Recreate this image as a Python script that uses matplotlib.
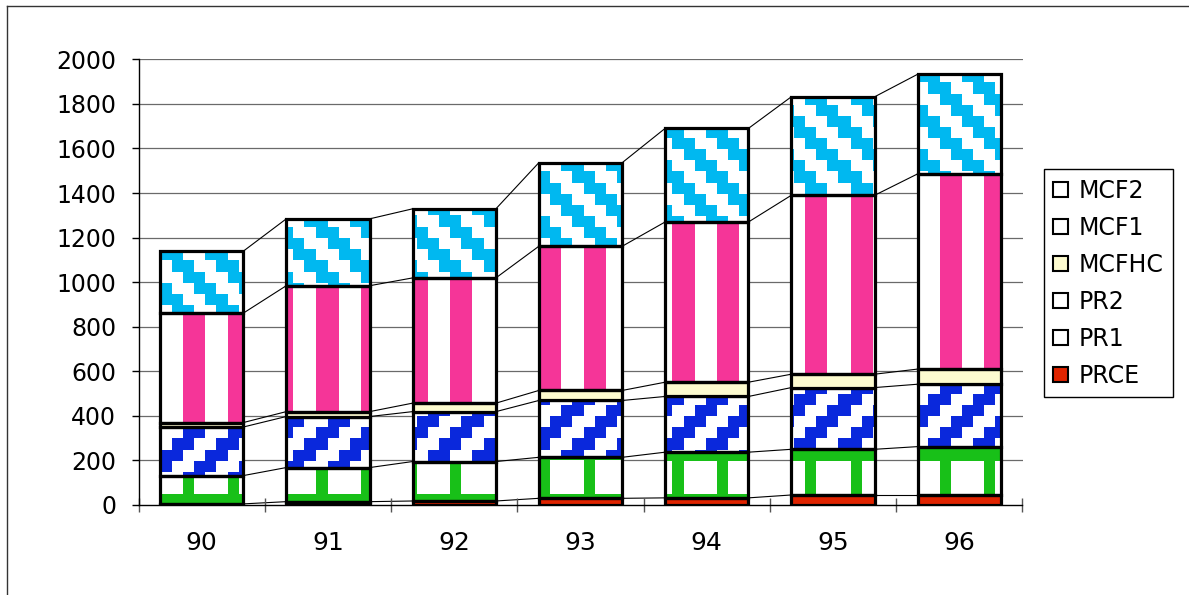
import numpy as np
import matplotlib
matplotlib.use('Agg')
import matplotlib.pyplot as plt
from matplotlib.patches import Patch
from matplotlib.lines import Line2D

# Data
years = ['90', '91', '92', '93', '94', '95', '96']
prce = [5, 15, 18, 30, 32, 45, 45]
pr1 = [127, 153, 177, 184, 205, 205, 217]
pr2 = [218, 229, 224, 255, 250, 277, 280]
mcfhc = [20, 22, 38, 45, 64, 60, 68]
mcf1 = [491, 565, 562, 647, 719, 803, 876]
mcf2 = [278, 300, 310, 375, 420, 442, 447]

series_names = ['PRCE', 'PR1', 'PR2', 'MCFHC', 'MCF1', 'MCF2']
series_values = [prce, pr1, pr2, mcfhc, mcf1, mcf2]

red = '#E02400'
green = '#18C018'
blue = '#0A28DC'
yellow = '#FDFBCF'
pink = '#F53598'
lightblue = '#00B8F0'

W, H = 1189, 595
fig = plt.figure(figsize=(W / 100, H / 100), dpi=100)
ax_left, ax_right, ax_top, ax_bottom = 138.5, 1022.5, 59.3, 505.0
ax = fig.add_axes([ax_left / W, 1 - ax_bottom / H, (ax_right - ax_left) / W, (ax_bottom - ax_top) / H])

n = len(years)
x = np.arange(n)
bar_w = 0.66
ax.set_xlim(-0.5, n - 0.5)
ax.set_ylim(0, 2000)

# Screen aligned pattern grid (like the old excel fills)
nx = int(round(ax_right - ax_left))
ny = int(round(ax_bottom - ax_top))
xs = ax_left + np.arange(nx) + 0.5
ys = ax_top + np.arange(ny) + 0.5
cell = 11.125
jj = np.floor((xs - 816.7) / cell).astype(int)[None, :] + np.zeros((ny, 1), dtype=int)
ii = np.floor((ys - 105.0) / cell).astype(int)[:, None] + np.zeros((1, nx), dtype=int)


def make_pattern(mask, color):
    rgb = np.array(matplotlib.colors.to_rgb(color))
    img = np.ones((ny, nx, 3))
    img[mask] = rgb
    return img


patterns = {
    'PR1': make_pattern(((jj % 4) == 3) | ((ii % 4) == 3), green),
    'PR2': make_pattern(((jj + ii) % 4) < 2, blue),
    'MCF1': make_pattern(((jj % 4) == 3) | ((jj % 4) == 0), pink),
    'MCF2': make_pattern(((jj - ii) % 4) < 2, lightblue),
}
solid = {'PRCE': red, 'MCFHC': yellow}

# Gridlines
for v in range(200, 2001, 200):
    ax.axhline(v, color='#6a6a6a', lw=0.9, zorder=1)

bottom = np.zeros(n)
tops = []
for name, vals in zip(series_names, series_values):
    vals = np.array(vals, dtype=float)
    if name in solid:
        ax.bar(x, vals, bar_w, bottom=bottom, color=solid[name], edgecolor='black', lw=2.3, zorder=3)
    else:
        bars = ax.bar(x, vals, bar_w, bottom=bottom, facecolor='none', edgecolor='black', lw=2.3, zorder=3)
        for rect in bars:
            im = ax.imshow(patterns[name], extent=(-0.5, n - 0.5, 0, 2000), origin='upper',
                           aspect='auto', interpolation='nearest', zorder=2)
            im.set_clip_path(rect)
    bottom = bottom + vals
    tops.append(bottom.copy())

# Series lines between the stacks
for level in tops:
    for k in range(n - 1):
        ax.plot([x[k] + bar_w / 2, x[k + 1] - bar_w / 2], [level[k], level[k + 1]],
                color='black', lw=0.8, zorder=1.5)

ax.set_xlim(-0.5, n - 0.5)
ax.set_ylim(0, 2000)

for side in ['top', 'right']:
    ax.spines[side].set_visible(False)
ax.spines['left'].set_color('black')
ax.spines['bottom'].set_color('black')
ax.spines['left'].set_linewidth(1)
ax.spines['bottom'].set_linewidth(1)

ax.set_yticks(np.arange(0, 2001, 200))
ax.tick_params(axis='y', direction='out', length=5, width=1, pad=11, labelsize=17)
ax.set_xticks(x)
ax.set_xticklabels(years)
ax.set_xticks(np.arange(-0.5, n, 1), minor=True)
ax.tick_params(axis='x', which='major', length=0, pad=19, labelsize=18)
ax.tick_params(axis='x', which='minor', direction='inout', length=10, width=1, color='#555555')

# Legend
legend_colors = {'PRCE': red, 'MCFHC': yellow}
handles = [Patch(facecolor=legend_colors.get(nm, 'white'), edgecolor='black', lw=1.5, label=nm)
           for nm in series_names[::-1]]
leg = fig.legend(handles=handles, loc='upper left', bbox_to_anchor=(1044 / W, 1 - 169.3 / H),
                 bbox_transform=fig.transFigure, fontsize=17, frameon=True, fancybox=False,
                 edgecolor='black', framealpha=1, borderpad=0.4, handlelength=0.6, handleheight=0.6,
                 handletextpad=0.45, labelspacing=0.55, borderaxespad=0)
leg.get_frame().set_linewidth(1)

# chart area border (only top and left show)
fig.add_artist(Line2D([7 / W, 7 / W], [0, 1 - 6 / H], transform=fig.transFigure, color='#333333', lw=1))
fig.add_artist(Line2D([7 / W, 1], [1 - 6 / H, 1 - 6 / H], transform=fig.transFigure, color='#333333', lw=1))

fig.savefig('out.png', dpi=100)
